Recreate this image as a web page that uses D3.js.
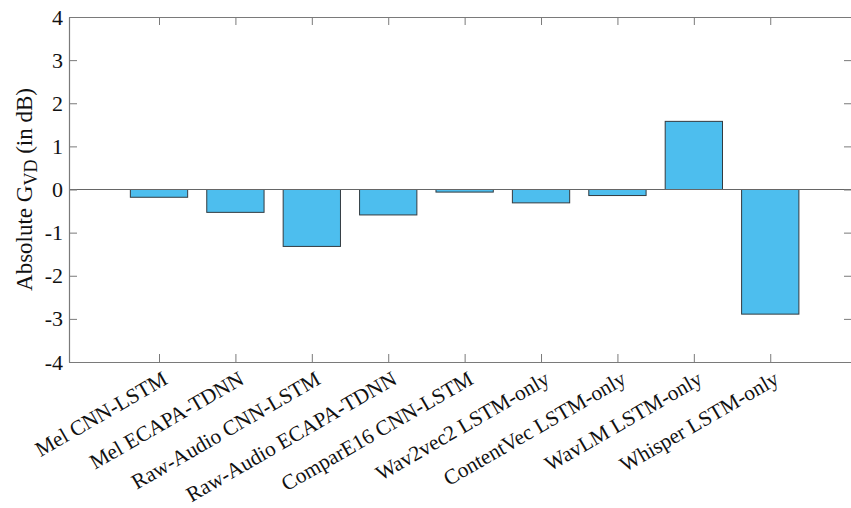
<!DOCTYPE html>
<html>
<head>
<meta charset="utf-8">
<script src="https://cdn.jsdelivr.net/npm/d3@7"></script>
<style>
  body { margin: 0; background: #fff; }
  svg { display: block; font-family: 'Liberation Serif', 'Times New Roman', serif; }
</style>
</head>
<body>
<div id="chart"></div>
<script>
// Data
const models = [
  'Mel CNN-LSTM',
  'Mel ECAPA-TDNN',
  'Raw-Audio CNN-LSTM',
  'Raw-Audio ECAPA-TDNN',
  'ComparE16 CNN-LSTM',
  'Wav2vec2 LSTM-only',
  'ContentVec LSTM-only',
  'WavLM LSTM-only',
  'Whisper LSTM-only'
];
const gainVD = [-0.18, -0.53, -1.32, -0.59, -0.06, -0.31, -0.14, 1.58, -2.89];
const yTicks = [-4, -3, -2, -1, 0, 1, 2, 3, 4];

const width = 851;
const height = 508;
const plotLeft = 69;
const plotRight = 852;
const plotTop = 17;
const plotBottom = 362;
const axisColor = '#7a7a7a';

const svg = d3.select('#chart').append('svg')
  .attr('width', width)
  .attr('height', height);

// Scales (category index -> x)
const xScale = d3.scaleLinear().domain([-0.178, 10.07]).range([plotLeft, plotRight]);
const yScale = d3.scaleLinear().domain([-4, 4]).range([plotBottom, plotTop]);
const barWidth = (xScale(1) - xScale(0)) * 0.75;
const idx = models.map((d, i) => i + 1);

// Bars
svg.append('g')
  .selectAll('rect')
  .data(gainVD)
  .enter()
  .append('rect')
  .attr('x', (d, i) => xScale(i + 1) - barWidth / 2)
  .attr('y', (d) => yScale(Math.max(0, d)))
  .attr('width', barWidth)
  .attr('height', (d) => Math.abs(yScale(d) - yScale(0)))
  .attr('fill', '#4dbeee')
  .attr('stroke', '#333b40')
  .attr('stroke-width', 1);

// Zero baseline
svg.append('line')
  .attr('x1', plotLeft).attr('x2', plotRight)
  .attr('y1', yScale(0)).attr('y2', yScale(0))
  .attr('stroke', '#666')
  .attr('stroke-width', 1);

// Axes (ticks inward, box style)
const styleAxis = (g) => {
  g.selectAll('path').attr('stroke', axisColor).attr('stroke-width', 1.2);
  g.selectAll('line').attr('stroke', axisColor);
};

svg.append('g')
  .attr('transform', `translate(0, ${plotBottom})`)
  .call(d3.axisBottom(xScale).tickValues(idx).tickSize(-8).tickSizeOuter(0).tickFormat(''))
  .call(styleAxis);

svg.append('g')
  .attr('transform', `translate(0, ${plotTop})`)
  .call(d3.axisTop(xScale).tickValues(idx).tickSize(-8).tickSizeOuter(0).tickFormat(''))
  .call(styleAxis);

const yAxis = svg.append('g')
  .attr('transform', `translate(${plotLeft}, 0)`)
  .call(d3.axisLeft(yScale).tickValues(yTicks).tickSize(-8).tickSizeOuter(0)
    .tickPadding(6).tickFormat((d) => String(d)))
  .call(styleAxis);
yAxis.selectAll('text')
  .attr('font-family', "'Liberation Serif', serif")
  .attr('font-size', 22)
  .attr('fill', '#111');

svg.append('g')
  .attr('transform', `translate(${plotRight}, 0)`)
  .call(d3.axisRight(yScale).tickValues(yTicks).tickSize(-8).tickSizeOuter(0).tickFormat(''))
  .call(styleAxis);

// Category labels, rotated
svg.append('g')
  .selectAll('text')
  .data(models)
  .enter()
  .append('text')
  .attr('transform', (d, i) => `translate(${xScale(i + 1) + 10}, ${plotBottom + 21}) rotate(-30)`)
  .attr('text-anchor', 'end')
  .attr('font-size', 21.3)
  .attr('fill', '#111')
  .text((d) => d);

// Y label
const yLabel = svg.append('text')
  .attr('transform', `translate(32, ${(plotTop + plotBottom) / 2}) rotate(-90)`)
  .attr('text-anchor', 'middle')
  .attr('font-size', 23)
  .attr('fill', '#111');
yLabel.append('tspan').text('Absolute G');
yLabel.append('tspan').attr('baseline-shift', '-30%').attr('font-size', 18).text('VD');
yLabel.append('tspan').text(' (in dB)');
</script>
</body>
</html>
